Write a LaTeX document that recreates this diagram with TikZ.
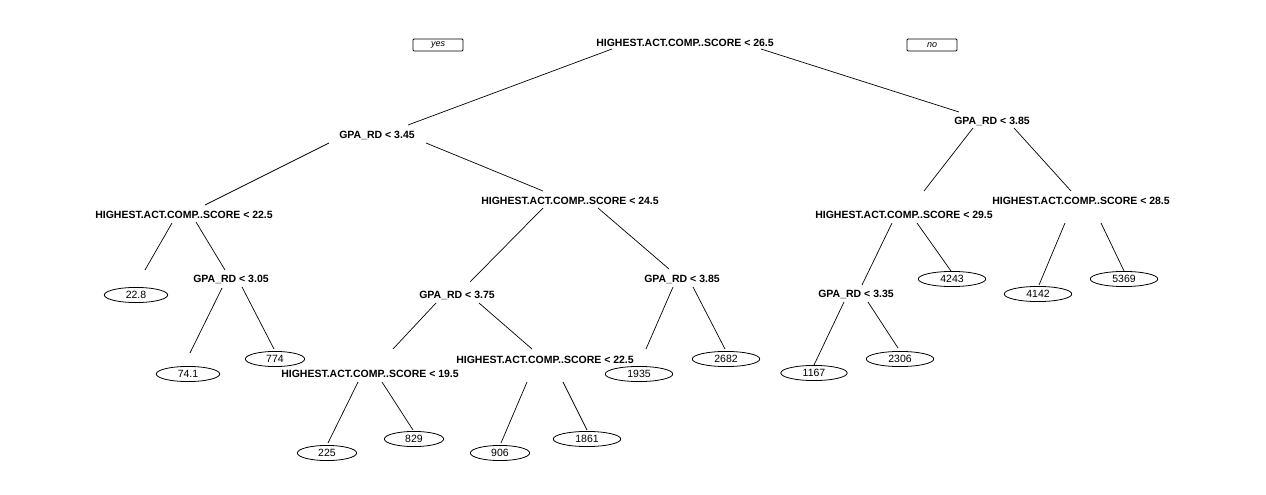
\documentclass[tikz,border=0pt]{standalone}
\usepackage{fontspec}
\setmainfont{Liberation Sans}
\usetikzlibrary{calc, shapes.geometric}

\begin{document}
\begin{tikzpicture}[x=1pt, y=-1pt,
    split/.style={inner sep=0pt, text height=7.5pt, text depth=0pt,
                  font=\fontsize{10.5}{12}\selectfont\bfseries},
    leaf/.style={draw, ellipse, line width=0.8pt, inner xsep=12.2pt, inner ysep=1.6pt,
                 text height=7.5pt, text depth=0pt, font=\fontsize{10.5}{12}\selectfont},
    yesno/.style={draw, line width=0.8pt, rounded corners=1pt, minimum width=50pt,
                  minimum height=12pt, inner sep=0pt, font=\fontsize{9}{10}\selectfont\itshape},
    branch/.style={line width=0.7pt}]
    \useasboundingbox (0,0) rectangle (1266,495);

    % split labels
    \node[split] (root)    at (685,43)  {HIGHEST.ACT.COMP..SCORE < 26.5};
    \node[yesno] (yes)     at (438,45)  {yes};
    \node[yesno] (no)      at (932,45)  {no};
    \node[split] (gpa345)  at (377,135) {GPA\_RD < 3.45};
    \node[split] (gpa385r) at (992,121) {GPA\_RD < 3.85};
    \node[split] (act225a) at (184,215) {HIGHEST.ACT.COMP..SCORE < 22.5};
    \node[split] (act245)  at (570,201) {HIGHEST.ACT.COMP..SCORE < 24.5};
    \node[split] (gpa305)  at (231,279) {GPA\_RD < 3.05};
    \node[split] (gpa375)  at (457,295) {GPA\_RD < 3.75};
    \node[split] (gpa385m) at (682,279) {GPA\_RD < 3.85};
    \node[split] (act195)  at (370,374) {HIGHEST.ACT.COMP..SCORE < 19.5};
    \node[split] (act225b) at (545,360) {HIGHEST.ACT.COMP..SCORE < 22.5};
    \node[split] (act295)  at (904,215) {HIGHEST.ACT.COMP..SCORE < 29.5};
    \node[split] (act285)  at (1081,201) {HIGHEST.ACT.COMP..SCORE < 28.5};
    \node[split] (gpa335)  at (856,294) {GPA\_RD < 3.35};

    % leaves
    \node[leaf] (l228)  at (136,295)  {22.8};
    \node[leaf] (l741)  at (188,374)  {74.1};
    \node[leaf] (l774)  at (275,359)  {774};
    \node[leaf] (l225)  at (327,453)  {225};
    \node[leaf] (l829)  at (414,439)  {829};
    \node[leaf] (l906)  at (500,453)  {906};
    \node[leaf] (l1861) at (587,439)  {1861};
    \node[leaf] (l1935) at (639,374)  {1935};
    \node[leaf] (l2682) at (726,359)  {2682};
    \node[leaf] (l1167) at (814,373)  {1167};
    \node[leaf] (l2306) at (900,359)  {2306};
    \node[leaf] (l4243) at (952,279)  {4243};
    \node[leaf] (l4142) at (1038,294) {4142};
    \node[leaf] (l5369) at (1124,279) {5369};

    % branches
    \draw[branch] ($(root)+(-73,6)$)    -- ($(gpa345)+(31,-10)$);
    \draw[branch] ($(root)+(76,6)$)     -- ($(gpa385r)+(-33,-9)$);
    \draw[branch] ($(gpa345)+(-48,8)$)  -- ($(act225a)+(21,-10)$);
    \draw[branch] ($(gpa345)+(49,8)$)   -- ($(act245)+(-27,-10)$);
    \draw[branch] ($(act225a)+(-12,8)$) -- ($(l228)+(9,-25)$);
    \draw[branch] ($(act225a)+(12,7)$)  -- ($(gpa305)+(-6,-9)$);
    \draw[branch] ($(gpa305)+(-9,9)$)   -- ($(l741)+(2,-21)$);
    \draw[branch] ($(gpa305)+(11,8)$)   -- ($(l774)+(-1,-10)$);
    \draw[branch] ($(act245)+(-27,7)$)  -- ($(gpa375)+(13,-13)$);
    \draw[branch] ($(act245)+(28,7)$)   -- ($(gpa385m)+(-13,-10)$);
    \draw[branch] ($(gpa375)+(-21,8)$)  -- ($(act195)+(23,-25)$);
    \draw[branch] ($(gpa375)+(22,8)$)   -- ($(act225b)+(-13,-11)$);
    \draw[branch] ($(act195)+(-12,8)$)  -- ($(l225)+(1,-10)$);
    \draw[branch] ($(act195)+(12,8)$)   -- ($(l829)+(-1,-9)$);
    \draw[branch] ($(act225b)+(-18,22)$) -- ($(l906)+(1,-10)$);
    \draw[branch] ($(act225b)+(18,22)$) -- ($(l1861)+(0,-9)$);
    \draw[branch] ($(gpa385m)+(-9,8)$)  -- ($(l1935)+(7,-25)$);
    \draw[branch] ($(gpa385m)+(11,8)$)  -- ($(l2682)+(-1,-10)$);
    \draw[branch] ($(gpa385r)+(-19,7)$) -- ($(act295)+(20,-24)$);
    \draw[branch] ($(gpa385r)+(22,7)$)  -- ($(act285)+(-10,-10)$);
    \draw[branch] ($(act295)+(-12,8)$)  -- ($(gpa335)+(6,-9)$);
    \draw[branch] ($(act295)+(13,8)$)   -- ($(l4243)+(-1,-8)$);
    \draw[branch] ($(act285)+(-16,22)$) -- ($(l4142)+(1,-9)$);
    \draw[branch] ($(act285)+(20,22)$)  -- ($(l5369)+(0,-8)$);
    \draw[branch] ($(gpa335)+(-12,8)$)  -- ($(l1167)+(0,-8)$);
    \draw[branch] ($(gpa335)+(12,8)$)   -- ($(l2306)+(-2,-11)$);
\end{tikzpicture}
\end{document}
